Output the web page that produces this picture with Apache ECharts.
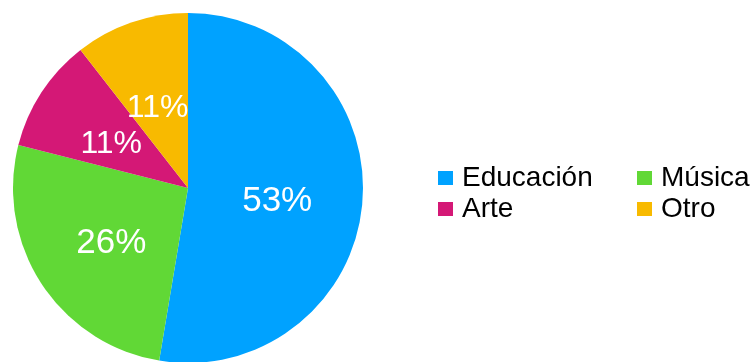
<!DOCTYPE html>
<html>
<head>
<meta charset="utf-8">
<script src="https://cdn.jsdelivr.net/npm/echarts@6/dist/echarts.min.js"></script>
<style>
  html, body { margin: 0; padding: 0; background: #fff; }
  #chart { width: 754px; height: 362px; }
</style>
</head>
<body>
<div id="chart"></div>
<script>
const categories = ['Educación', 'Música', 'Arte', 'Otro']
const values = [10, 5, 2, 2]
const colors = ['#00a2ff', '#61d836', '#d41876', '#f8ba00']

const font = "'Liberation Sans', Arial, sans-serif"
const chart = echarts.init(document.getElementById('chart'))

function legendCol(left, names) {
  return {
    orient: 'vertical',
    left: left,
    top: 159,
    data: names,
    icon: 'rect',
    itemWidth: 15,
    itemHeight: 14,
    itemGap: 3,
    selectedMode: false,
    textStyle: { fontFamily: font, fontSize: 28, lineHeight: 28, color: '#000', padding: [0, 0, 0, 4] }
  }
}

chart.setOption({
  color: colors,
  animation: false,
  legend: [
    legendCol(433, [categories[0], categories[2]]),
    legendCol(632, [categories[1], categories[3]])
  ],
  series: [
    {
      type: 'pie',
      center: [188, 188],
      radius: 175,
      startAngle: 90,
      clockwise: true,
      // larger slices get a slightly larger label, as in the original
      data: categories.map((c, i) => ({
        name: c,
        value: values[i],
        label: { fontSize: values[i] >= 5 ? 35 : 32 }
      })),
      label: {
        position: 'inner',
        color: '#fff',
        fontFamily: font,
        offset: [-1, 6],
        formatter: p => Math.round(p.percent) + '%'
      },
      labelLine: { show: false },
      emphasis: { disabled: true }
    }
  ]
})
</script>
</body>
</html>
